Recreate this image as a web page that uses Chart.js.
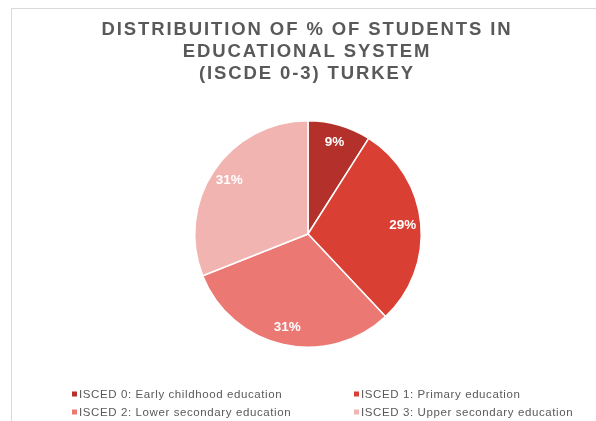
<!DOCTYPE html>
<html lang="en">
  <head>
    <meta charset="utf-8" />
    <title>Students by ISCED level, Turkey</title>
    <style>
      * {
        margin: 0;
        padding: 0;
      }
      body {
        background: white;
        overflow: hidden;
      }
      .chartCard {
        position: relative;
        width: 596px;
        height: 421px;
        overflow: hidden;
      }
      .frame {
        position: absolute;
        left: 11px;
        top: 8px;
        width: 700px;
        height: 500px;
        border: 1px solid #d9d9d9;
      }
      .chartBox {
        position: absolute;
        left: 0;
        top: 0;
        width: 596px;
        height: 421px;
      }
    </style>
  </head>
  <body>
    <div class="chartCard">
      <div class="frame"></div>
      <div class="chartBox">
        <canvas id="myChart"></canvas>
      </div>
    </div>

    <script src="https://cdn.jsdelivr.net/npm/chart.js@4.4.1/dist/chart.umd.min.js"></script>

    <script>
      const titleLines = [
        "DISTRIBUITION OF % OF STUDENTS IN",
        "EDUCATIONAL SYSTEM",
        "(ISCDE 0-3) TURKEY",
      ];
      const categories = [
        "ISCED 0: Early childhood education",
        "ISCED 1: Primary education",
        "ISCED 2: Lower secondary education",
        "ISCED 3: Upper secondary education",
      ];
      const shares = [9, 29, 31, 31];
      const sliceColors = ["#b3312a", "#d93f33", "#ec7873", "#f2b4b1"];

      const fontFamily = '"Liberation Sans", Arial, sans-serif';
      const textGray = "#595959";

      // title block
      const titleBlock = {
        id: "titleBlock",
        afterDraw(chart) {
          const { ctx } = chart;
          ctx.save();
          ctx.font = "bold 18.5px " + fontFamily;
          ctx.letterSpacing = "1.9px";
          ctx.fillStyle = textGray;
          ctx.textAlign = "center";
          ctx.textBaseline = "middle";
          const rows = [30, 52, 74];
          titleLines.forEach((line, i) => {
            ctx.fillText(line, 307, rows[i]);
          });
          ctx.restore();
        },
      };

      // percentage labels inside the slices
      const sliceLabels = {
        id: "sliceLabels",
        afterDatasetsDraw(chart) {
          const { ctx } = chart;
          ctx.save();
          ctx.font = "bold 13.5px " + fontFamily;
          ctx.fillStyle = "#ffffff";
          ctx.textAlign = "center";
          ctx.textBaseline = "middle";
          chart.getDatasetMeta(0).data.forEach((arc, i) => {
            const mid = (arc.startAngle + arc.endAngle) / 2;
            const r = arc.outerRadius * 0.84;
            ctx.fillText(
              chart.data.datasets[0].data[i] + "%",
              arc.x + Math.cos(mid) * r,
              arc.y + Math.sin(mid) * r
            );
          });
          ctx.restore();
        },
      };

      // two column legend under the pie
      const gridLegend = {
        id: "gridLegend",
        afterDraw(chart) {
          const { ctx } = chart;
          const colX = [72, 354];
          const rowY = [394, 412];
          ctx.save();
          ctx.font = "11.5px " + fontFamily;
          ctx.letterSpacing = "0.6px";
          ctx.textBaseline = "middle";
          ctx.textAlign = "left";
          chart.data.labels.forEach((label, i) => {
            const x = colX[i % 2];
            const y = rowY[Math.floor(i / 2)];
            ctx.fillStyle = chart.data.datasets[0].backgroundColor[i];
            ctx.fillRect(x, y - 2.5, 5, 5);
            ctx.fillStyle = textGray;
            ctx.fillText(label, x + 7, y + 0.5);
          });
          ctx.restore();
        },
      };

      const config = {
        type: "pie",
        data: {
          labels: categories,
          datasets: [
            {
              data: shares,
              backgroundColor: sliceColors,
              borderColor: "#ffffff",
              borderWidth: 1.5,
            },
          ],
        },
        options: {
          responsive: true,
          maintainAspectRatio: false,
          animation: false,
          layout: {
            padding: { left: 194, right: 174, top: 120, bottom: 73 },
          },
          plugins: {
            legend: { display: false },
            title: { display: false },
            tooltip: { enabled: false },
          },
        },
        plugins: [sliceLabels, titleBlock, gridLegend],
      };

      const myChart = new Chart(document.getElementById("myChart"), config);
    </script>
  </body>
</html>
